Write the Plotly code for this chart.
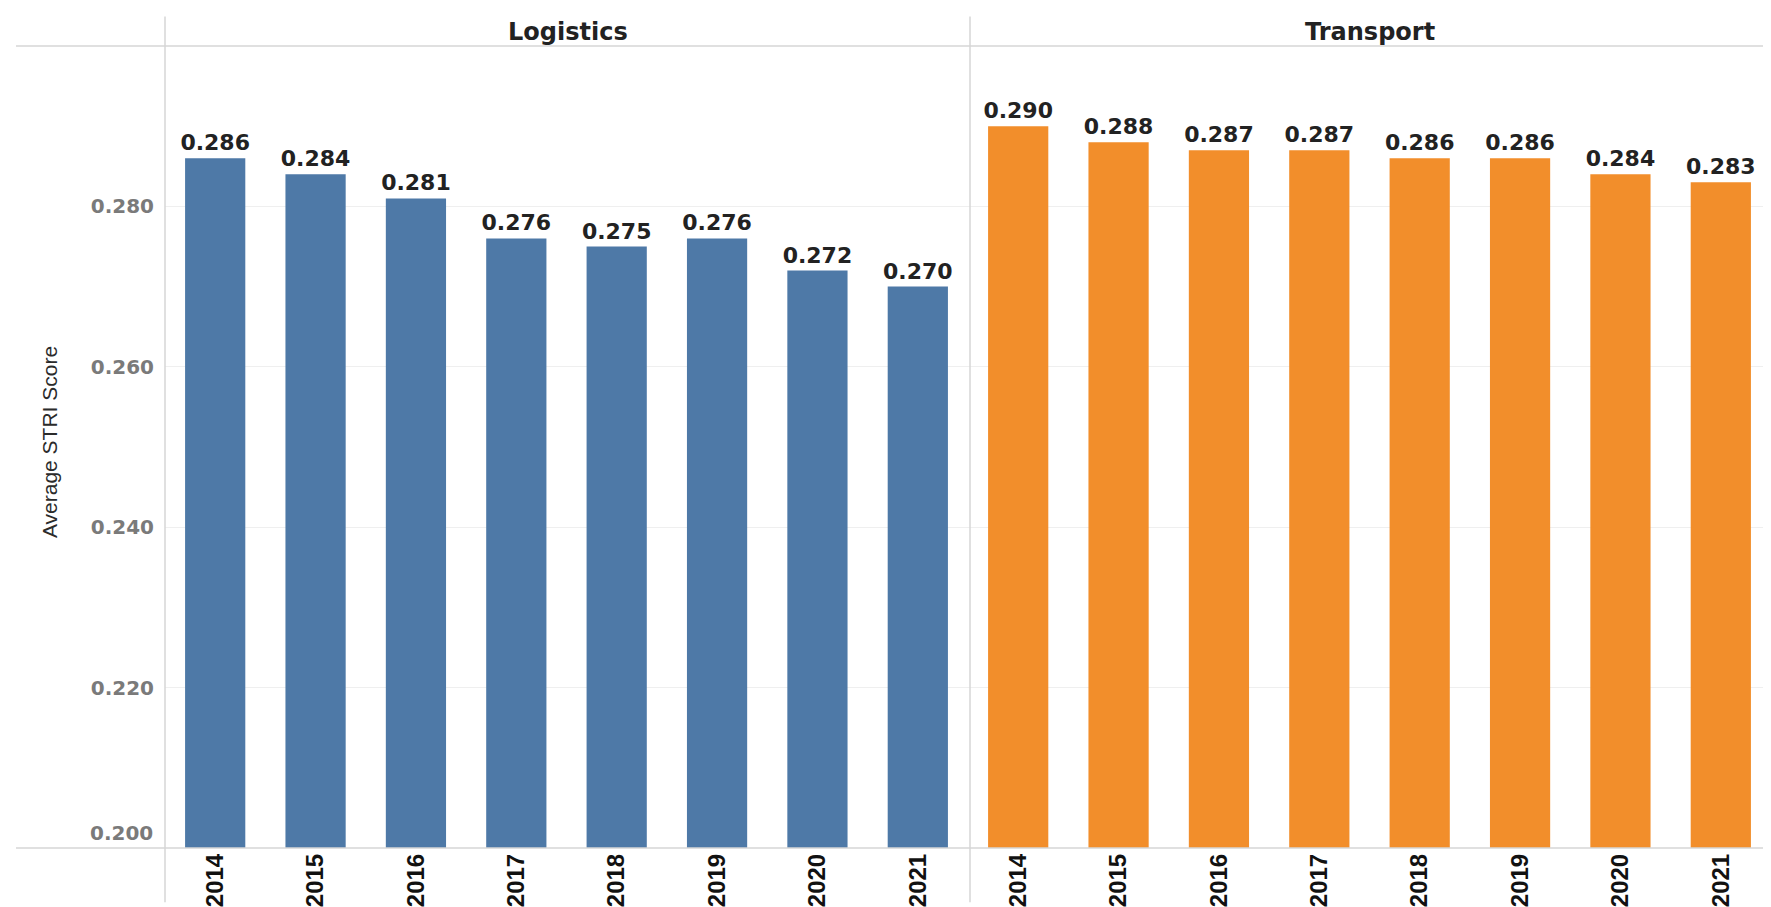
import plotly.graph_objects as go
from plotly.subplots import make_subplots

years = ["2014", "2015", "2016", "2017", "2018", "2019", "2020", "2021"]
logistics = [0.286, 0.284, 0.281, 0.276, 0.275, 0.276, 0.272, 0.270]
transport = [0.290, 0.288, 0.287, 0.287, 0.286, 0.286, 0.284, 0.283]
panels = ["Logistics", "Transport"]
ytick_vals = [0.220, 0.240, 0.260, 0.280]
ytick_text = ["0.220", "0.240", "0.260", "0.280"]
ybase_val = 0.200
ybase_text = "0.200"

W, H = 1771, 907
L, R, T, B = 157, 8, 38, 55
pw = W - L - R
ph = H - T - B

fig = make_subplots(rows=1, cols=2, shared_yaxes=True, horizontal_spacing=0)

label_font = dict(family="DejaVu Sans", size=22, color="#222222", weight="bold")

for i, (vals, col) in enumerate([(logistics, "#4e79a7"), (transport, "#f28e2b")]):
    fig.add_trace(
        go.Bar(
            x=years, y=vals, marker=dict(color=col, line=dict(width=0)),
            texttemplate="%{y:.3f}", textposition="outside", constraintext="none",
            textfont=label_font, cliponaxis=False, showlegend=False,
        ),
        row=1, col=i + 1,
    )

fig.update_layout(
    width=W, height=H,
    margin=dict(l=L, r=R, t=T, b=B),
    paper_bgcolor="white", plot_bgcolor="white",
    bargap=0.4,
)

xfont = dict(family="Liberation Sans Narrow, Liberation Sans, Arial Narrow, sans-serif",
             size=24, color="#111111", weight="bold")
for c in (1, 2):
    fig.update_xaxes(type="category", tickangle=-90, tickfont=xfont, showgrid=False,
                     showline=False, ticks="", zeroline=False, row=1, col=c)
    fig.update_yaxes(range=[0.2, 0.3], tickvals=ytick_vals, ticktext=ytick_text,
                     showgrid=True, gridcolor="#efefef", gridwidth=1, zeroline=False,
                     showline=False, ticks="", row=1, col=c)

ytfont = dict(family="DejaVu Sans", size=20, color="#7a7a7a", weight="bold")
fig.update_yaxes(tickfont=ytfont, ticklabelstandoff=10, row=1, col=1)
fig.update_yaxes(showticklabels=False, row=1, col=2)

def px(xp):
    return (xp - L) / pw

def py(yp):
    return (H - B - yp) / ph

line_col = "#d6d6d6"
shapes = []
for xp in (157, 962, 1763):
    shapes.append(dict(type="line", xref="paper", yref="paper",
                       x0=px(xp), x1=px(xp), y0=py(8), y1=py(907),
                       line=dict(color=line_col, width=1.5)))
for yp in (38, 852):
    shapes.append(dict(type="line", xref="paper", yref="paper",
                       x0=px(8), x1=px(1763), y0=py(yp), y1=py(yp),
                       line=dict(color=line_col, width=1.5)))
fig.update_layout(shapes=shapes)

annos = []
for name, cx in zip(panels, (559.5, 1362)):
    annos.append(dict(text=name, xref="paper", yref="paper", x=px(cx), y=py(24),
                      showarrow=False, xanchor="center", yanchor="middle",
                      font=dict(family="DejaVu Sans", size=24, color="#222222", weight="bold")))
# base tick label (placed just above the baseline, as in the reference)
annos.append(dict(text=ybase_text, xref="paper", yref="y", x=px(147), y=ybase_val,
                  showarrow=False, xanchor="right", yanchor="bottom", yshift=1,
                  font=ytfont))
annos.append(dict(text="Average STRI Score", xref="paper", yref="paper", x=px(41), y=py(440),
                  showarrow=False, textangle=-90, xanchor="center", yanchor="middle",
                  font=dict(family="Liberation Sans Narrow, Liberation Sans, sans-serif",
                            size=21, color="#2b2b2b")))
fig.update_layout(annotations=annos)

fig.write_html("out.html")
